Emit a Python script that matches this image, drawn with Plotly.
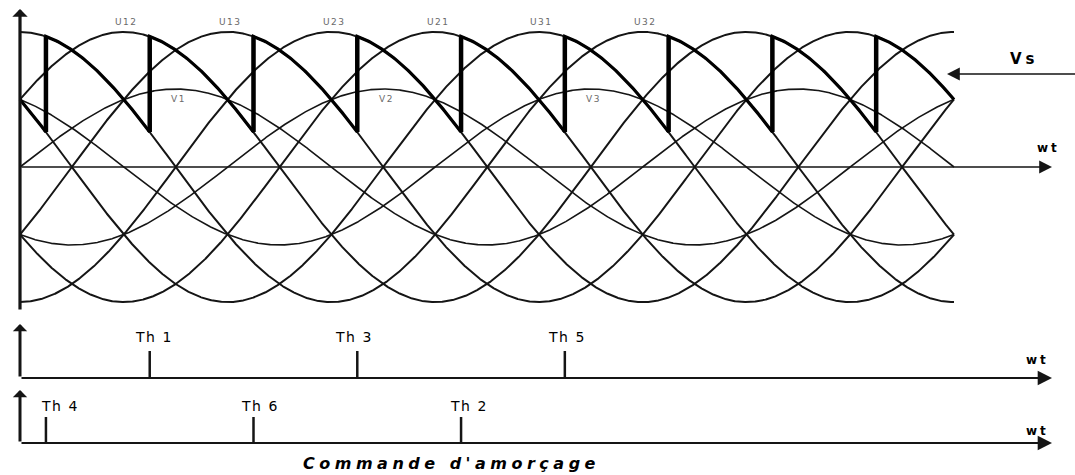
import numpy as np
import plotly.graph_objects as go

# ---- waveform parameters -------------------------------------------------
THETA_END = 540          # ωt span drawn, in degrees
ALPHA = 45               # thyristor firing delay, degrees

# simple (phase) voltages: label and phase lag in degrees, amplitude Vm = 1
phase_names = ["V1", "V2", "V3"]
phase_lags = [0, 120, 240]

# line voltages: label and angle of the positive peak, amplitude sqrt(3)
line_names = ["U12", "U13", "U23", "U21", "U31", "U32"]
line_peaks = [60, 120, 180, 240, 300, 360]

# gate pulses of the bridge, degrees
upper_names = ["Th 1", "Th 3", "Th 5"]
upper_angles = [75, 195, 315]
lower_names = ["Th 4", "Th 6", "Th 2"]
lower_angles = [15, 135, 255]

# ---- page geometry (pixels) ----------------------------------------------
W, H = 1075, 475
X0_PX, XEND_PX = 20, 954                 # where ωt = 0 and ωt = THETA_END sit
PX_PER_DEG = (XEND_PX - X0_PX) / THETA_END
TOP_ZERO, TOP_UNIT = 167, 78             # upper plot: zero line, pixels per Vm
P1_ZERO, P1_UNIT = 378, 27               # first pulse row
P2_ZERO, P2_UNIT = 443, 26               # second pulse row


def xd(px):
    return (px - X0_PX) / PX_PER_DEG


def yd(px, zero, unit):
    return (zero - px) / unit


def yrange(zero, unit):
    return [(zero - H) / unit, zero / unit]


INK = "#151515"
SQ3 = np.sqrt(3)
theta = np.linspace(0, THETA_END, 2161)

fig = go.Figure()

# line voltages
for name, peak in zip(line_names, line_peaks):
    fig.add_trace(go.Scatter(x=theta, y=SQ3 * np.cos(np.radians(theta - peak)),
                             mode="lines", line=dict(color=INK, width=2),
                             name=name, hoverinfo="skip"))

# phase voltages
for name, lag in zip(phase_names, phase_lags):
    fig.add_trace(go.Scatter(x=theta, y=np.sin(np.radians(theta - lag)),
                             mode="lines", line=dict(color=INK, width=1.6),
                             name=name, hoverinfo="skip"))

# rectified output Vs: each line voltage conducts 60° starting at its
# natural commutation point delayed by ALPHA
vs_x, vs_y = [], []
jump_x, jump_y = [], []
starts = [ALPHA - 30 + 60 * k for k in range(-1, THETA_END // 60)]
prev_peak = None
for s in starts:
    peak = s + 30 - ALPHA
    a, b = max(s, 0), min(s + 60, THETA_END)
    if b <= a:
        continue
    seg = np.linspace(a, b, 121)
    vs_x.extend(seg)
    vs_y.extend(SQ3 * np.cos(np.radians(seg - peak)))
    if prev_peak is not None and s > 0:
        jump_x += [s, s, None]
        jump_y += [SQ3 * np.cos(np.radians(s - prev_peak)),
                   SQ3 * np.cos(np.radians(s - peak)), None]
    prev_peak = peak

fig.add_trace(go.Scatter(x=vs_x, y=vs_y, mode="lines",
                         line=dict(color="#000", width=3.2), name="Vs",
                         hoverinfo="skip"))
fig.add_trace(go.Scatter(x=jump_x, y=jump_y, mode="lines",
                         line=dict(color="#000", width=4.5), name="Vs jumps",
                         hoverinfo="skip"))

# gate pulses
fig.add_trace(go.Scatter(
    x=[v for a in upper_angles for v in (a, a, None)],
    y=[v for _ in upper_angles for v in (0, 1, None)],
    mode="lines", line=dict(color=INK, width=2.5), yaxis="y2",
    hoverinfo="skip", name="pulses 1-3-5"))
fig.add_trace(go.Scatter(
    x=[v for a in lower_angles for v in (a, a, None)],
    y=[v for _ in lower_angles for v in (0, 1, None)],
    mode="lines", line=dict(color=INK, width=2.5), yaxis="y3",
    hoverinfo="skip", name="pulses 4-6-2"))

ann = []


def arrow(x, y, ax, ay, yref, width, head, size):
    ann.append(dict(x=x, y=y, ax=ax, ay=ay, xref="x", yref=yref,
                    axref="x", ayref=yref, text="", showarrow=True,
                    arrowhead=head, arrowwidth=width, arrowsize=size,
                    arrowcolor=INK, standoff=0, startstandoff=0))


def spaced(text, gap):
    return f'<span style="letter-spacing:{gap}px">{text}</span>'


# axes of the upper plot
arrow(0, yd(9, TOP_ZERO, TOP_UNIT), 0, yd(311, TOP_ZERO, TOP_UNIT), "y", 3.2, 1, 0.8)
arrow(xd(1052), 0, 0, 0, "y", 1.6, 2, 1.6)
# Vs pointer
arrow(xd(947), yd(74, TOP_ZERO, TOP_UNIT), xd(W + 5), yd(74, TOP_ZERO, TOP_UNIT),
      "y", 1.6, 2, 1.6)
# axes of the pulse rows
arrow(0, yd(324, P1_ZERO, P1_UNIT), 0, 0, "y2", 3, 1, 0.8)
arrow(xd(1052), 0, 0, 0, "y2", 2.2, 2, 1.3)
arrow(0, yd(390, P2_ZERO, P2_UNIT), 0, 0, "y3", 3, 1, 0.8)
arrow(xd(1052), 0, 0, 0, "y3", 2.2, 2, 1.3)

small = dict(family="DejaVu Sans", size=9, color="#6a6a6a")
for name, peak in zip(line_names, line_peaks):
    ann.append(dict(x=peak, y=SQ3, xref="x", yref="y", text=spaced(name, 1.5),
                    showarrow=False, yshift=10, xshift=3, font=small))
for name, lag in zip(phase_names, phase_lags):
    ann.append(dict(x=90 + lag, y=1, xref="x", yref="y", text=spaced(name, 1.5),
                    showarrow=False, yshift=-10, xshift=3, font=small))

th_font = dict(family="DejaVu Sans", size=14, color="#000")
upper_nudge = [4, -3, 2]
lower_nudge = [14, 6, 8]
for name, a, dx in zip(upper_names, upper_angles, upper_nudge):
    ann.append(dict(x=a, y=1, xref="x", yref="y2", text=spaced(name, 1.5),
                    showarrow=False, yshift=14, xshift=dx, font=th_font))
for name, a, dx in zip(lower_names, lower_angles, lower_nudge):
    ann.append(dict(x=a, y=1, xref="x", yref="y3", text=spaced(name, 1.5),
                    showarrow=False, yshift=11, xshift=dx, font=th_font))

bold = dict(family="DejaVu Sans", size=12, color="#000", weight="bold")
ann.append(dict(x=xd(1048), y=yd(148, TOP_ZERO, TOP_UNIT), xref="x", yref="y",
                text=spaced("wt", 3), showarrow=False, font=bold))
ann.append(dict(x=xd(1037), y=yd(360, P1_ZERO, P1_UNIT), xref="x", yref="y2",
                text=spaced("wt", 3), showarrow=False, font=bold))
ann.append(dict(x=xd(1037), y=yd(431, P2_ZERO, P2_UNIT), xref="x", yref="y3",
                text=spaced("wt", 3), showarrow=False, font=bold))
ann.append(dict(x=xd(1024), y=yd(59, TOP_ZERO, TOP_UNIT), xref="x", yref="y",
                text=spaced("Vs", 4), showarrow=False,
                font=dict(family="DejaVu Sans", size=15, color="#000", weight="bold")))
ann.append(dict(x=xd(451), y=yd(463, P2_ZERO, P2_UNIT), xref="x", yref="y3",
                text=spaced("Commande d'amorçage", 4.5), showarrow=False,
                font=dict(family="DejaVu Sans", size=16, color="#000",
                          weight="bold", style="italic")))

hidden = dict(visible=False, fixedrange=True, showgrid=False, zeroline=False)
fig.update_layout(
    width=W, height=H, margin=dict(l=0, r=0, t=0, b=0),
    paper_bgcolor="white", plot_bgcolor="white", showlegend=False,
    xaxis=dict(range=[xd(0), xd(W)], **hidden),
    yaxis=dict(range=yrange(TOP_ZERO, TOP_UNIT), **hidden),
    yaxis2=dict(range=yrange(P1_ZERO, P1_UNIT), overlaying="y", **hidden),
    yaxis3=dict(range=yrange(P2_ZERO, P2_UNIT), overlaying="y", **hidden),
    annotations=ann,
)

fig.write_html("out.html")
